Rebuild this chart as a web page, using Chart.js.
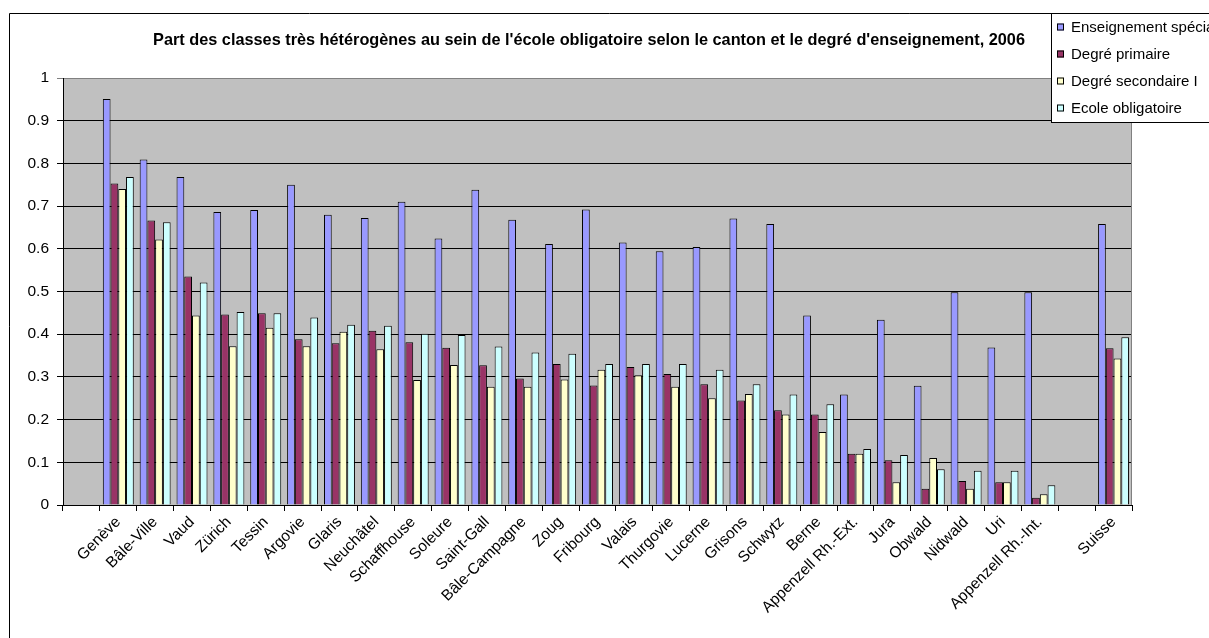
<!DOCTYPE html>
<html>
<head>
<meta charset="utf-8">
<script src="https://cdn.jsdelivr.net/npm/chart.js@4"></script>
<style>
  html, body { margin: 0; padding: 0; background: #fff; }
  #wrap { width: 1209px; height: 638px; position: relative; }
</style>
</head>
<body>
<div id="wrap"><canvas id="bar-chart" width="1209" height="638"></canvas></div>
<script>
const cantons = ['', 'Genève', 'Bâle-Ville', 'Vaud', 'Zürich', 'Tessin', 'Argovie', 'Glaris', 'Neuchâtel',
  'Schaffhouse', 'Soleure', 'Saint-Gall', 'Bâle-Campagne', 'Zoug', 'Fribourg', 'Valais', 'Thurgovie',
  'Lucerne', 'Grisons', 'Schwytz', 'Berne', 'Appenzell Rh.-Ext.', 'Jura', 'Obwald', 'Nidwald', 'Uri',
  'Appenzell Rh.-Int.', '', 'Suisse']

const special = [null, 0.951, 0.809, 0.768, 0.686, 0.691, 0.750, 0.680, 0.672, 0.710, 0.624, 0.738, 0.668,
  0.611, 0.692, 0.615, 0.594, 0.604, 0.671, 0.658, 0.444, 0.259, 0.434, 0.279, 0.498, 0.369, 0.498, null, 0.658]
const primaire = [null, 0.753, 0.666, 0.535, 0.446, 0.449, 0.388, 0.379, 0.408, 0.381, 0.368, 0.327, 0.296,
  0.330, 0.280, 0.323, 0.307, 0.283, 0.245, 0.222, 0.212, 0.120, 0.105, 0.038, 0.056, 0.053, 0.017, null, 0.367]
const secondaire = [null, 0.740, 0.622, 0.444, 0.372, 0.415, 0.372, 0.406, 0.365, 0.293, 0.328, 0.277, 0.277,
  0.294, 0.317, 0.304, 0.277, 0.250, 0.260, 0.212, 0.171, 0.120, 0.053, 0.110, 0.038, 0.053, 0.025, null, 0.343]
const obligatoire = [null, 0.768, 0.662, 0.521, 0.452, 0.449, 0.439, 0.422, 0.420, 0.401, 0.398, 0.371, 0.357,
  0.354, 0.330, 0.330, 0.330, 0.317, 0.283, 0.259, 0.236, 0.131, 0.117, 0.084, 0.080, 0.080, 0.046, null, 0.393]

const yTicks = [0, 0.1, 0.2, 0.3, 0.4, 0.5, 0.6, 0.7, 0.8, 0.9, 1]

const titleText = "Part des classes très hétérogènes au sein de l'école obligatoire selon le canton et le degré d'enseignement, 2006"
const font = '"Liberation Sans", Arial, sans-serif'

// background, frame, title and the legend box that overlaps the plot
const excelLook = {
  id: 'excelLook',
  beforeDraw(chart) {
    const { ctx, chartArea: a } = chart
    ctx.save()
    ctx.fillStyle = '#c0c0c0'
    ctx.fillRect(a.left, a.top, a.right - a.left, a.bottom - a.top)
    ctx.restore()
  },
  afterDraw(chart) {
    const { ctx, chartArea: a } = chart
    ctx.save()
    ctx.strokeStyle = '#808080'
    ctx.lineWidth = 1
    ctx.beginPath()
    ctx.moveTo(Math.round(a.right) - 0.5, a.top)
    ctx.lineTo(Math.round(a.right) - 0.5, a.bottom)
    ctx.stroke()

    // outer frame
    ctx.strokeStyle = '#000'
    ctx.beginPath()
    ctx.moveTo(9.5, 640)
    ctx.lineTo(9.5, 13.5)
    ctx.lineTo(1215, 13.5)
    ctx.stroke()

    // title
    ctx.fillStyle = '#000'
    ctx.font = 'bold 16.3px ' + font
    ctx.textAlign = 'center'
    ctx.textBaseline = 'middle'
    ctx.fillText(titleText, 589, 41)

    // legend
    ctx.fillStyle = '#fff'
    ctx.fillRect(1051, 13, 170, 110)
    ctx.strokeRect(1051.5, 13.5, 170, 109)
    ctx.font = '15px ' + font
    ctx.textAlign = 'left'
    const ys = [27, 54, 81, 108]
    chart.data.datasets.forEach((ds, i) => {
      ctx.fillStyle = ds.backgroundColor
      ctx.fillRect(1057, ys[i] - 3.5, 7, 7)
      ctx.strokeStyle = '#000'
      ctx.strokeRect(1057.5, ys[i] - 3, 6, 6)
      ctx.fillStyle = '#000'
      ctx.fillText(ds.label, 1071, ys[i] + 1)
    })
    ctx.restore()
  }
}

const barData = {
  labels: cantons,
  datasets: [
    { label: 'Enseignement spécialisé', data: special, backgroundColor: '#9999ff' },
    { label: 'Degré primaire', data: primaire, backgroundColor: '#993366' },
    { label: 'Degré secondaire I', data: secondaire, backgroundColor: '#ffffcc' },
    { label: 'Ecole obligatoire', data: obligatoire, backgroundColor: '#ccffff' }
  ]
}

const barChart = new Chart(document.getElementById('bar-chart'), {
  type: 'bar',
  data: barData,
  plugins: [excelLook],
  options: {
    responsive: false,
    animation: false,
    layout: { padding: { left: 10, top: 78, right: 77, bottom: 0 } },
    datasets: {
      bar: { categoryPercentage: 0.84, barPercentage: 1, borderWidth: 1, borderColor: '#000' }
    },
    plugins: {
      legend: { display: false },
      title: { display: false },
      tooltip: { enabled: false }
    },
    scales: {
      x: {
        grid: { drawOnChartArea: false, color: '#000', tickLength: 6, offset: true },
        border: { color: '#000' },
        ticks: {
          autoSkip: false, minRotation: 45, maxRotation: 45, padding: 2,
          color: '#000', font: { family: font, size: 15.5 }
        },
        afterFit(scale) { scale.height = 638 - 505 }
      },
      y: {
        min: 0,
        max: 1,
        afterBuildTicks(scale) { scale.ticks = yTicks.map(v => ({ value: v })) },
        grid: { color: ctx => (ctx.tick && ctx.tick.value === 1 ? '#808080' : '#000'), tickLength: 6 },
        border: { color: '#000' },
        ticks: {
          padding: 8, color: '#000', font: { family: font, size: 15.5 },
          callback: v => String(+v.toFixed(1))
        },
        afterFit(scale) { scale.width = 53 }
      }
    }
  }
})
</script>
</body>
</html>
